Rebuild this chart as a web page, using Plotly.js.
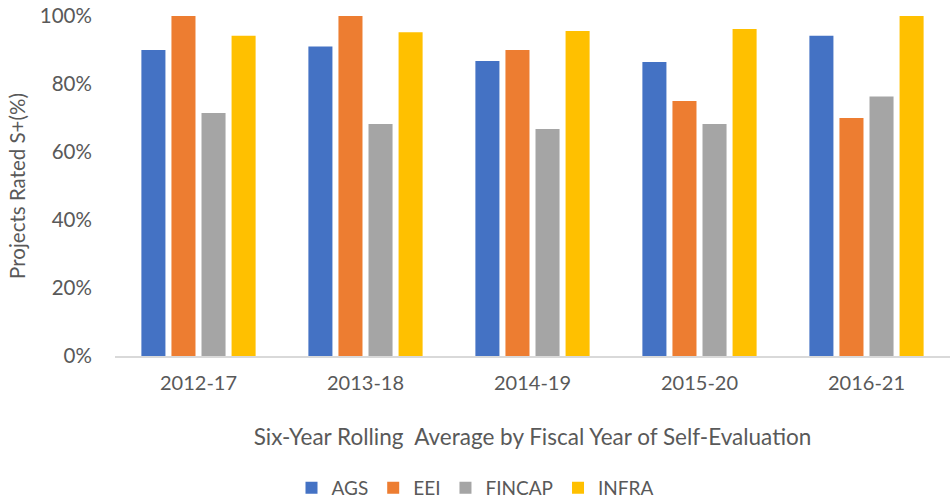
<!DOCTYPE html>
<html>
<head>
<meta charset="utf-8">
<script src="https://cdn.plot.ly/plotly-3.0.1.min.js"></script>
<style>html,body{margin:0;padding:0;background:#fff;}#chart{width:950px;height:502px;}</style>
</head>
<body>
<div id="chart"></div>
<script>
const categories = ["2012-17", "2013-18", "2014-19", "2015-20", "2016-21"];
const seriesNames = ["AGS", "EEI", "FINCAP", "INFRA"];
const AGS = [0.90, 0.91, 0.868, 0.865, 0.942];
const EEI = [1.00, 1.00, 0.90, 0.75, 0.70];
const FINCAP = [0.715, 0.682, 0.668, 0.682, 0.763];
const INFRA = [0.942, 0.952, 0.956, 0.962, 1.00];
const yTicks = [0, 0.2, 0.4, 0.6, 0.8, 1.0];
const yTickLabels = ["0%", "20%", "40%", "60%", "80%", "100%"];

const colors = ["#4472C4", "#ED7D31", "#A5A5A5", "#FFC000"];
const values = [AGS, EEI, FINCAP, INFRA];
const font = "Lato, 'Open Sans', sans-serif";

const traces = seriesNames.map((n, i) => ({
  type: "bar", name: n, x: categories, y: values[i],
  marker: {color: colors[i]}
}));

const layout = {
  width: 950, height: 502,
  margin: {l: 115, r: 0, t: 16, b: 146},
  paper_bgcolor: "#fff", plot_bgcolor: "#fff",
  font: {family: font, color: "#595959", size: 20},
  barmode: "group", bargap: 0.28, bargroupgap: 0.2,
  showlegend: true,
  legend: {orientation: "h", x: 0.5, xref: "container", xanchor: "center", y: 0.028, yref: "container", yanchor: "middle",
           font: {size: 19, color: "#595959"}, itemwidth: 30, tracegroupgap: 0},
  xaxis: {
    showgrid: false, showline: true, linecolor: "#D9D9D9", linewidth: 2, zeroline: false,
    ticks: "outside", ticklen: 8, tickcolor: "rgba(0,0,0,0)", tickfont: {size: 20, color: "#595959"},
    title: {text: "Six-Year Rolling  Average by Fiscal Year of Self-Evaluation", font: {size: 22.5, color: "#595959"}, standoff: 36}
  },
  yaxis: {
    range: [0, 1.0], tickvals: yTicks, ticktext: yTickLabels,
    showgrid: false, zeroline: false, showline: false,
    ticks: "outside", ticklen: 18, tickcolor: "rgba(0,0,0,0)",
    tickfont: {size: 20.5, color: "#595959"},
    title: {text: "Projects Rated S+(%)", font: {size: 20.5, color: "#595959"}, standoff: 8}
  }
};
Plotly.newPlot("chart", traces, layout, {displayModeBar: false, staticPlot: true});
</script>
</body>
</html>
